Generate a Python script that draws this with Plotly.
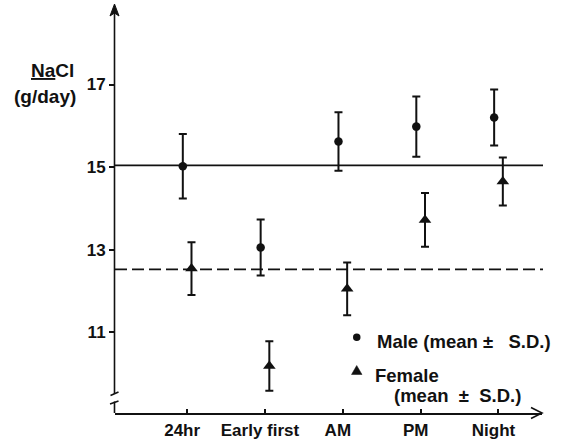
import plotly.graph_objects as go

# ---- data ----
categories = ["24hr", "Early first", "AM", "PM", "Night"]
male_mean = [15.02, 13.05, 15.62, 15.98, 16.2]
male_sd = [0.78, 0.68, 0.71, 0.73, 0.68]
female_mean = [12.54, 10.18, 12.05, 13.72, 14.65]
female_sd = [0.64, 0.6, 0.64, 0.65, 0.58]
male_overall = 15.04
female_overall = 12.52
y_tick_vals = [11, 13, 15, 17]

# ---- layout geometry (pixels) ----
W, H = 571, 442
ML, MR, MT, MB = 115, 29, 5, 29
PW, PH = W - ML - MR, H - MT - MB


def px(x):
    return (x - ML) / PW


def py(y):
    return (H - MB - y) / PH


FONT = "Liberation Sans"
BLACK = "#111111"
NB = "\u00a0"

fig = go.Figure()

fig.add_trace(go.Scatter(
    x=categories, y=male_mean, mode="markers", name="Male",
    marker=dict(symbol="circle", size=8.5, color=BLACK),
    error_y=dict(type="data", array=male_sd, visible=True,
                 thickness=2, width=4, color=BLACK),
    showlegend=False,
))
fig.add_trace(go.Scatter(
    x=categories, y=female_mean, mode="markers", name="Female",
    marker=dict(symbol="triangle-up", size=11, color=BLACK),
    error_y=dict(type="data", array=female_sd, visible=True,
                 thickness=2, width=4, color=BLACK),
    showlegend=False,
))

shapes = []
# mean lines
shapes.append(dict(type="line", xref="paper", yref="y", x0=0, x1=px(543),
                   y0=male_overall, y1=male_overall,
                   line=dict(color=BLACK, width=1.6)))
shapes.append(dict(type="line", xref="paper", yref="y", x0=0, x1=px(543),
                   y0=female_overall, y1=female_overall,
                   line=dict(color=BLACK, width=1.6, dash="12px,5px")))
# y axis line with break
shapes.append(dict(type="line", xref="paper", yref="paper", x0=px(114.5), x1=px(114.5),
                   y0=py(394), y1=py(12), line=dict(color=BLACK, width=1.6)))
shapes.append(dict(type="line", xref="paper", yref="paper", x0=px(114.5), x1=px(114.5),
                   y0=py(413), y1=py(401.5), line=dict(color=BLACK, width=1.6)))
shapes.append(dict(type="line", xref="paper", yref="paper", x0=px(110.5), x1=px(118.5),
                   y0=py(395.5), y1=py(392), line=dict(color=BLACK, width=1.6)))
shapes.append(dict(type="line", xref="paper", yref="paper", x0=px(110), x1=px(118.5),
                   y0=py(404), y1=py(401), line=dict(color=BLACK, width=1.6)))
# y arrow head (filled)
shapes.append(dict(type="path", xref="paper", yref="paper",
                   path=f"M {px(114.5)},{py(4)} L {px(110)},{py(16)} L {px(114.5)},{py(13)} L {px(119)},{py(16)} Z",
                   fillcolor=BLACK, line=dict(color=BLACK, width=1)))
# x arrow head (open)
shapes.append(dict(type="path", xref="paper", yref="paper",
                   path=f"M {px(531)},{py(407.5)} L {px(542)},{py(413)} L {px(531)},{py(418.5)}",
                   line=dict(color=BLACK, width=1.6)))
# legend markers
shapes.append(dict(type="circle", xref="paper", yref="paper",
                   x0=px(353), x1=px(360.5), y0=py(341), y1=py(333.5),
                   fillcolor=BLACK, line=dict(color=BLACK, width=0)))
shapes.append(dict(type="path", xref="paper", yref="paper",
                   path=f"M {px(351.5)},{py(374.5)} L {px(356.7)},{py(365.5)} L {px(362)},{py(374.5)} Z",
                   fillcolor=BLACK, line=dict(color=BLACK, width=0.5)))

TXT = dict(family=FONT, size=18.5, color=BLACK, weight="bold")
annotations = [
    dict(text="<u>Na</u>Cl", xref="paper", yref="paper", x=px(52), y=py(70),
         xanchor="center", yanchor="middle", showarrow=False,
         font=dict(family=FONT, size=19, color=BLACK, weight="bold")),
    dict(text="(g/day)", xref="paper", yref="paper", x=px(45), y=py(97),
         xanchor="center", yanchor="middle", showarrow=False,
         font=dict(family=FONT, size=19, color=BLACK, weight="bold")),
    dict(text=f"Male (mean \u00b1{NB * 3}S.D.)", xref="paper", yref="paper", x=px(375), y=py(341),
         xanchor="left", yanchor="middle", showarrow=False, font=TXT),
    dict(text="Female", xref="paper", yref="paper", x=px(373), y=py(375),
         xanchor="left", yanchor="middle", showarrow=False, font=TXT),
    dict(text=f"(mean{NB * 2}\u00b1{NB * 2}S.D.)", xref="paper", yref="paper", x=px(392), y=py(395),
         xanchor="left", yanchor="middle", showarrow=False, font=TXT),
]

fig.update_layout(
    width=W, height=H,
    margin=dict(l=ML, r=MR, t=MT, b=MB, pad=0, autoexpand=False),
    paper_bgcolor="white", plot_bgcolor="white",
    scattermode="group", scattergap=0.777,
    shapes=shapes, annotations=annotations,
    showlegend=False,
    font=dict(family=FONT, color=BLACK),
)
fig.update_xaxes(
    type="category", range=[-0.927, 4.559], automargin=False,
    showline=True, linecolor=BLACK, linewidth=1.6,
    ticks="inside", ticklen=4, tickwidth=1.5, tickcolor=BLACK,
    showgrid=False, zeroline=False,
    tickfont=dict(family=FONT, size=17, color=BLACK, weight="bold"),
    ticklabelshift=-5, ticklabelstandoff=1,
)
fig.update_yaxes(
    range=[9.041, 18.927], automargin=False,
    tickvals=y_tick_vals, ticktext=[str(v) for v in y_tick_vals],
    showline=False, ticks="outside", ticklen=5, tickwidth=1.5, tickcolor=BLACK,
    showgrid=False, zeroline=False,
    tickfont=dict(family=FONT, size=17, color=BLACK, weight="bold"),
)

fig.write_html(
    "out.html",
    config={"displayModeBar": False},
    post_script="document.body.style.margin='0';document.body.style.padding='0';",
)
